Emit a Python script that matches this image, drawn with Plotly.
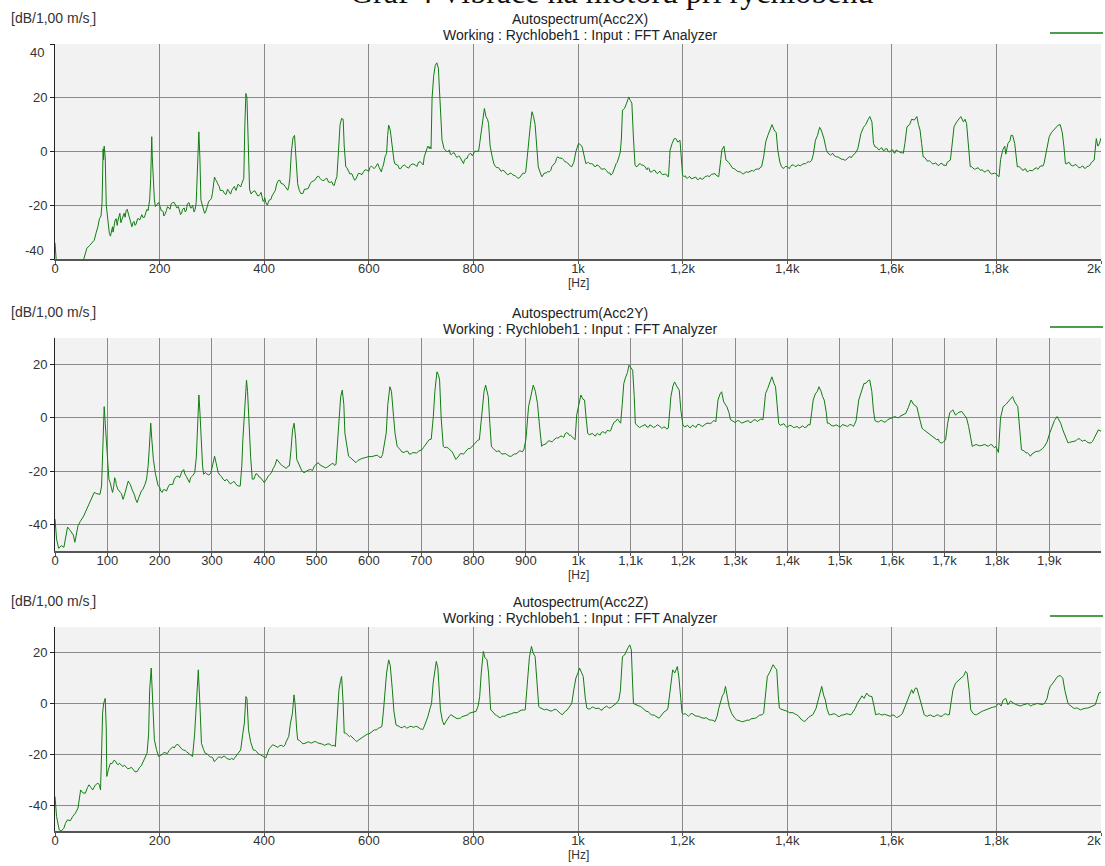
import plotly.graph_objects as go

# ---------------- data ----------------
acc2x_points = [
    (0, -34), (2, -38), (4, -45), (20, -46), (40, -46), (55, -40), (58, -38), (61, -36), (66, -35), (70, -34),
    (75, -33), (79, -30), (82, -28), (85, -25), (88, -24), (90, -19), (92, 1), (93, -3), (94, 2), (96, -2),
    (98, -20), (102, -29), (106, -31.5), (110, -28), (113, -27), (117, -25), (120, -26), (124, -23), (128, -25),
    (132, -23), (136, -22), (138, -21.5), (142, -25), (147, -28), (151, -26), (155, -27), (160, -25), (164, -24),
    (168, -24.5), (174, -22.5), (178, -22), (181, -18), (183, -10), (185, 5.5), (186, -2), (188, -14), (190, -18),
    (195, -19.5), (201, -20.5), (205, -22), (208, -24), (213, -22), (218, -21), (222, -19.5), (228, -19), (233, -21),
    (238, -22.5), (242, -23), (247, -21), (251, -22), (256, -19), (261, -21), (266, -22.5), (270, -19), (273, -5),
    (275, 7.3), (277, -2), (279, -18), (283, -21), (286, -23), (290, -21), (294, -18.5), (297, -18), (301, -15.6),
    (305, -9.5), (309, -11), (314, -13), (318, -14.5), (324, -15.6), (330, -14), (334, -15.5), (338, -14.4),
    (343, -13), (348, -13.5), (352, -12.5), (357, -12), (361, -10), (363, 10), (365, 21.6), (367, 20), (369, 3),
    (372, -14), (378, -15), (385, -15.6), (392, -16), (396, -17), (400, -18), (403, -19), (406, -20), (411, -18),
    (415, -16.5), (419, -15.6), (424, -12), (430, -10.7), (434, -12), (440, -13), (445, -14.4), (449, -10),
    (452, 0), (455, 5), (458, 6), (461, -3), (464, -12), (467, -14.4), (474, -15.6), (480, -14), (488, -12),
    (494, -11), (501, -9.4), (507, -10), (515, -10.7), (520, -10), (526, -11.5), (532, -12.5), (536, -11),
    (539, -9.4), (542, 0), (545, 10), (548, 12.3), (551, 12), (553, 2), (556, -5.7), (561, -7), (566, -8.2),
    (570, -9.5), (573, -10.7), (578, -9), (583, -8.2), (590, -7.5), (597, -7), (602, -6), (607, -5.7), (612, -6),
    (617, -4.5), (620, -6), (624, -7.6), (628, -5), (631, -2), (634, -0.7), (636, 6), (638, 9.8), (641, 8),
    (644, 2), (648, -3.2), (653, -5), (658, -6.3), (664, -5.5), (672, -5.7), (680, -5), (689, -5), (695, -4),
    (702, -4.5), (706, -2), (709, 0.5), (713, 2), (716, 1), (719, 1), (721, 20), (724, 28), (727, 32), (730, 33),
    (733, 31), (736, 20), (738, 10), (740, 4.2), (744, 1), (747, 0.5), (752, 0), (756, -1), (760, -0.7),
    (766, -1.5), (770, -2), (774, -2), (778, -3), (781, -4.5), (786, -2.5), (790, -1.5), (795, -0.7), (800, -1),
    (805, 0), (808, 0), (812, 3), (816, 8), (819, 12), (821, 16), (824, 13), (827, 12), (829, 10.4), (832, 2),
    (836, -2), (839, -4.5), (845, -6), (851, -7), (856, -7), (862, -8), (868, -8.5), (873, -8.2), (880, -9),
    (885, -10), (890, -9.4), (895, -8), (900, -7.6), (903, -2), (906, 5), (909, 10), (912, 14.8), (915, 13),
    (918, 10), (921, 0), (924, -5.7), (928, -8), (931, -9.4), (936, -8), (942, -7.5), (948, -7), (953, -5),
    (957, -4), (961, -2), (967, -2.5), (972, -3), (978, -4), (983, -5), (988, -5.7), (992, -4), (996, 0),
    (1001, 3), (1005, 2.5), (1008, 1.7), (1012, -2), (1015, -4.5), (1020, -4), (1026, -4.5), (1031, -5.5),
    (1036, -5), (1042, -6), (1048, -6.5), (1054, -7), (1058, -8), (1063, -8.8), (1068, -7), (1073, -4.5),
    (1077, -3), (1081, 0), (1083, 5), (1085, 15.4), (1089, 16), (1093, 18), (1097, 20.3), (1100, 19), (1103, 18),
    (1106, 5), (1109, -5), (1114, -5.5), (1119, -4.5), (1124, -5), (1130, -6.5), (1134, -6), (1138, -7.6),
    (1144, -7), (1150, -8), (1155, -7.5), (1159, -8.2), (1165, -8.5), (1170, -9), (1173, -9.4), (1175, -3),
    (1176, 0.5), (1180, 3), (1184, 4.8), (1187, 4.8), (1191, 3.5), (1195, 4.2), (1198, -2), (1200, -8.8),
    (1205, -9), (1209, -10), (1214, -9.4), (1220, -10), (1225, -9.5), (1230, -10.5), (1235, -10), (1242, -9.5),
    (1248, -9), (1255, -8.5), (1262, -8.2), (1266, -9), (1269, -9.4), (1273, -3), (1275, 0.5), (1279, 2),
    (1283, -3.2), (1288, -4), (1292, -5.5), (1296, -6.3), (1302, -7), (1308, -7.5), (1313, -8), (1317, -8.2),
    (1322, -7.5), (1328, -7.5), (1333, -7), (1337, -7), (1343, -6.5), (1348, -6), (1351, -5.7), (1355, -2),
    (1359, 3.6), (1363, 6), (1368, 8.6), (1371, 10), (1375, 8), (1379, 7), (1382, 0.5), (1386, -4), (1392, -6.3),
    (1397, -5.5), (1402, -6), (1406, -5.7), (1412, -5), (1418, -5.5), (1422, -5), (1427, -5), (1432, -4.5),
    (1438, -4), (1443, -4), (1447, -3.2), (1450, -1), (1454, 4.2), (1458, 6), (1462, 9), (1465, 8), (1470, 5),
    (1473, 2), (1475, 0.5), (1480, -1), (1485, -1), (1489, -1.4), (1494, -2), (1500, -2.5), (1505, -3),
    (1509, -3.2), (1515, -2.5), (1520, -2), (1525, -1.5), (1530, -0.7), (1535, 1), (1538, 4), (1541, 6.7),
    (1546, 9), (1550, 10), (1555, 12), (1558, 13), (1562, 11), (1565, 3), (1568, 1.7), (1573, 1), (1578, 1.1),
    (1583, 0.5), (1588, 1), (1593, 0), (1599, 0.5), (1604, -0.5), (1608, 0.5), (1613, 0), (1618, -0.5),
    (1622, -0.7), (1625, 3), (1629, 9.2), (1634, 10), (1638, 12), (1643, 11.7), (1648, 13), (1651, 10), (1654, 8),
    (1657, 3), (1660, -2), (1665, -3), (1670, -3.5), (1675, -4), (1681, -4.5), (1687, -5), (1693, -4.5),
    (1698, -5), (1701, -5), (1706, -4), (1712, -3.2), (1715, 2), (1719, 9.2), (1724, 11), (1728, 12), (1732, 13),
    (1737, 11), (1740, 12), (1743, 10.4), (1746, 3), (1750, -5.7), (1755, -6), (1760, -6.5), (1765, -6),
    (1770, -7), (1776, -7.5), (1782, -7), (1788, -8), (1794, -8.2), (1800, -8.5), (1805, -9.4), (1808, -3),
    (1812, 0.5), (1816, 2), (1818, -1), (1822, 3), (1826, 4), (1828, 6), (1831, 6), (1835, 3), (1838, -2),
    (1840, -5.7), (1846, -6), (1852, -7), (1856, -6.5), (1860, -7.6), (1866, -7), (1872, -6.5), (1877, -6),
    (1881, -6.3), (1886, -5.5), (1891, -4.5), (1895, 0), (1898, 3), (1901, 5.5), (1905, 7), (1910, 8), (1914, 9),
    (1918, 9.8), (1922, 10), (1926, 7), (1929, 2), (1932, -4.5), (1937, -4), (1942, -5), (1949, -5), (1955, -5.5),
    (1961, -6), (1966, -5.5), (1970, -6.3), (1976, -5.5), (1982, -4), (1987, -3.2), (1991, 4.8), (1994, 2),
    (1997, 3), (2000, 5),
]
# finer ripple read between the main points
acc2x_detail = [
    (104, -30.5), (108, -29), (111, -30), (115, -25.5), (119, -27.5), (122, -24), (126, -26.5), (130, -23.5),
    (134, -24.5), (140, -23), (145, -27.5), (149, -26.5), (153, -27.5), (158, -25), (162, -25.5), (166, -23.5),
    (171, -24.5), (176, -21.5), (192, -20.5), (198, -19), (203, -22), (207, -22.5), (210, -23.5), (215, -20.5),
    (220, -21.5), (225, -19), (231, -20.5), (236, -20.5), (240, -23.5), (244, -21.5), (249, -22.5), (253, -19.5),
    (259, -21), (263, -20), (268, -21.5), (281, -19.5), (288, -22.5), (292, -19.5), (299, -17.5), (303, -12),
    (307, -10.5), (311, -12), (316, -14.5), (321, -14.5), (327, -16), (332, -14.5), (336, -15.8), (341, -13.2),
    (346, -14.5), (350, -12.2), (355, -13.2), (375, -15.8), (382, -14.6), (388, -16.6), (394, -15.2),
    (398, -18.6), (401, -17.2), (405, -19.8), (409, -18.2), (413, -17.8), (417, -15.8), (421, -14.6),
    (427, -10.8), (432, -11.8), (437, -12.2), (442, -13.8), (447, -13), (470, -15.6), (477, -14), (484, -13.8),
    (491, -11.2), (497, -10.6), (504, -9.2), (511, -10.8), (518, -10), (523, -11.4), (529, -11.2), (534, -12.6),
    (558, -6), (564, -8.4), (568, -8.4), (575, -10.4), (580, -8.2), (587, -8.6), (593, -6.8), (600, -7.4),
    (605, -5.4), (610, -6.4), (615, -4.8), (622, -6.8), (626, -6), (650, -4.6), (656, -5.2), (661, -6.4),
    (668, -5), (676, -6.2), (684, -4.6), (692, -5.6), (698, -3.8), (704, -5), (711, 1), (717, 1.8), (749, 0),
    (754, 0.6), (758, -1.2), (763, -0.4), (768, -2.2), (772, -1.6), (776, -2.8), (783, -3.2), (788, -2.6),
    (793, -0.8), (798, -1.6), (803, 0.2), (810, 0.2), (842, -5.6), (848, -6), (853, -7.4), (859, -7.2),
    (865, -8.6), (870, -8), (876, -8.8), (883, -9.6), (888, -9.8), (893, -8.4), (898, -8.2), (933, -8.8),
    (939, -8), (945, -7.6), (950, -5.6), (955, -4.6), (959, -2.6), (964, -2.4), (970, -2.6), (975, -3.8),
    (980, -4.2), (986, -5.4), (1018, -4.2), (1023, -4.6), (1029, -4.8), (1034, -5.6), (1039, -5.2), (1045, -6.6),
    (1051, -6.4), (1056, -7.8), (1061, -8), (1066, -8.2), (1070, -5.8), (1075, -4), (1079, -1.6), (1111, -5.6),
    (1117, -4.6), (1122, -5.2), (1127, -5.4), (1132, -6.8), (1136, -6.4), (1141, -7.6), (1147, -7), (1152, -8.2),
    (1157, -7.4), (1162, -8.6), (1168, -8.4), (1203, -9.4), (1207, -9.8), (1212, -9.4), (1217, -10.2),
    (1222, -9.6), (1228, -10.4), (1233, -9.8), (1238, -10.4), (1245, -9.2), (1251, -9.4), (1258, -8.4),
    (1264, -8.8), (1290, -4.6), (1294, -6.2), (1299, -6.4), (1305, -7.4), (1311, -7.6), (1315, -8.4),
    (1320, -7.6), (1325, -7.8), (1331, -7), (1335, -7.4), (1340, -6.6), (1346, -6.6), (1389, -5.6), (1395, -6),
    (1400, -5.6), (1404, -6.4), (1409, -5), (1415, -5.6), (1420, -5), (1425, -5.4), (1430, -4.6), (1435, -4.6),
    (1441, -3.8), (1478, -0.6), (1483, -1.4), (1487, -0.6), (1492, -2), (1497, -2), (1503, -3), (1507, -2.8),
    (1512, -3.2), (1518, -2), (1523, -2.2), (1528, -0.8), (1571, 1.6), (1576, 0.6), (1581, 1.4), (1586, 0.4),
    (1591, 1), (1596, -0.2), (1602, 0.6), (1606, -0.6), (1611, 0.4), (1616, -0.4), (1620, -0.4), (1663, -2.2),
    (1668, -3.6), (1672, -3.4), (1678, -4.6), (1684, -4.2), (1690, -5.2), (1696, -4.4), (1704, -5.2),
    (1709, -3.4), (1752, -5.6), (1758, -6.6), (1763, -6), (1768, -6.8), (1773, -6.8), (1779, -7.6), (1785, -7),
    (1791, -8.4), (1797, -8), (1802, -9), (1843, -5.6), (1849, -6.8), (1854, -6.4), (1858, -7.4), (1863, -7),
    (1869, -7.2), (1875, -6), (1879, -6.6), (1884, -5.4), (1889, -5.4), (1935, -4.6), (1940, -4.2), (1946, -5.4),
    (1952, -4.8), (1958, -6), (1964, -5.4), (1968, -6.2), (1973, -5.6), (1979, -5), (1985, -3.4),
]

acc2y_points = [
    (0, -38), (3, -45.5), (7, -49), (12, -48), (17, -48.6), (20, -45.5), (24, -41), (28, -42), (31, -43),
    (35, -44), (38, -46.7), (41, -43), (44, -40.5), (48, -39), (52, -38), (55, -36.8), (59, -35), (62, -33.7),
    (65, -32), (68, -30.6), (72, -29), (75, -28), (80, -28.5), (86, -28.7), (89, -25.6), (91, -15), (92, -5.7),
    (94, 4.2), (96, -2), (99, -12), (101, -20), (103, -23), (107, -26), (110, -28), (114, -22.5), (117, -25),
    (120, -26.8), (125, -28), (130, -30.6), (135, -27), (140, -23.7), (144, -25), (147, -26.8), (152, -29),
    (157, -31.8), (162, -29), (168, -26.8), (172, -25), (175, -23), (178, -18), (180, -12), (183, -2), (185, -8),
    (188, -15.6), (192, -21), (195, -24.3), (200, -26), (205, -28), (210, -27), (216, -26), (222, -25),
    (228, -23), (236, -21.9), (241, -21), (246, -19.4), (251, -22), (257, -24.3), (262, -22), (267, -20.6),
    (270, -15), (272, -5.7), (275, 8.6), (277, 2), (279, -8.2), (282, -18), (284, -21.2), (290, -21),
    (298, -20.6), (302, -17), (305, -14.4), (308, -17), (312, -20.6), (318, -22), (325, -23.7), (332, -24),
    (339, -24.3), (346, -25), (354, -25.6), (357, -18), (359, -8.2), (362, 3), (366, 14.2), (368, 10),
    (371, -5.7), (374, -15), (377, -23), (382, -22), (387, -21.2), (393, -22.5), (400, -24.3), (405, -22.5),
    (411, -21.2), (417, -19), (424, -15.6), (430, -17), (435, -18), (442, -19), (448, -18), (451, -12),
    (454, -4.5), (457, -2), (460, -8), (462, -15.6), (467, -18), (472, -20), (480, -20), (489, -19.4),
    (496, -18), (503, -16.8), (510, -18), (517, -18.8), (525, -18), (531, -17), (537, -17.5), (540, -8),
    (543, 3), (546, 8), (549, 10.4), (552, 5), (554, -5.7), (558, -11), (561, -14.4), (568, -15.5),
    (575, -16.8), (583, -15.5), (592, -15), (600, -14.5), (609, -14.4), (616, -14), (623, -15), (628, -12),
    (631, -8), (633, -5.7), (636, 5), (640, 11.7), (643, 10), (647, 0.5), (650, -6), (654, -10.7), (660, -12),
    (667, -13), (674, -12.5), (681, -13.5), (688, -13), (695, -12.5), (701, -12), (708, -10), (715, -8.2),
    (719, -8), (723, 0.5), (726, 10), (730, 17.3), (733, 16), (735, 14.2), (738, 0), (742, -10.7), (748, -11),
    (756, -12), (761, -13.5), (766, -15.6), (772, -14), (778, -13.5), (783, -13), (790, -11.5), (796, -11),
    (800, -10), (806, -9), (811, -8.2), (814, -2), (817, 4.2), (820, 10), (823, 12.3), (826, 10), (828, 8),
    (831, -2), (834, -10.7), (840, -12), (846, -12.5), (851, -13), (858, -13.5), (865, -14), (872, -14.4),
    (878, -13.5), (885, -13), (891, -12.5), (896, -12), (900, -8), (905, 4.2), (909, 8), (914, 12.3), (918, 10),
    (922, 5.5), (926, -3), (930, -10.7), (935, -10), (941, -9), (947, -8.8), (952, -8.5), (958, -7.5),
    (964, -7), (970, -7), (975, -6), (980, -5.7), (985, -6.5), (990, -7.5), (994, -8.2), (997, 1.1), (1001, 5),
    (1005, 8.6), (1009, 7), (1012, 6.7), (1015, 0), (1018, -5.7), (1024, -6), (1030, -6.5), (1035, -6),
    (1039, -6.3), (1044, -5.5), (1050, -5.5), (1054, -5), (1059, -5), (1065, -3), (1069, -1.5), (1073, -0.7),
    (1077, -1), (1081, -2), (1084, 5), (1087, 12.9), (1090, 15), (1094, 17), (1097, 19.8), (1100, 19),
    (1104, 17.9), (1107, 8), (1109, -2), (1114, -3), (1121, -3.2), (1128, -2.5), (1134, -3.5), (1141, -3),
    (1148, -3.2), (1155, -3), (1160, -4), (1166, -3.5), (1172, -3.9), (1175, 3), (1177, 8), (1181, 12),
    (1184, 13.5), (1188, 12), (1193, 10.4), (1196, 3), (1200, -2.6), (1206, -3), (1212, -3.5), (1217, -3),
    (1222, -3.2), (1228, -2.5), (1235, -3), (1242, -2.5), (1250, -2), (1256, -1.5), (1263, -1.4), (1265, 3),
    (1267, 6.7), (1271, 9), (1274, 9.8), (1278, 6), (1284, 4.2), (1288, 2), (1291, -0.7), (1297, -1.5),
    (1304, -1), (1312, -2), (1318, -1.5), (1325, -1), (1332, -1.5), (1339, -0.7), (1346, -1), (1353, -0.7),
    (1356, 4), (1358, 9.2), (1362, 11), (1366, 13), (1370, 15.4), (1374, 13), (1377, 11.7), (1380, 5),
    (1383, -2), (1390, -2.5), (1396, -3), (1401, -3.2), (1408, -3), (1415, -3.5), (1422, -3.9), (1429, -3),
    (1436, -3.5), (1443, -2.6), (1446, 2), (1449, 6.7), (1453, 9), (1457, 10), (1460, 11.7), (1464, 10),
    (1467, 8), (1470, 6.7), (1474, 2), (1476, -2), (1482, -2.5), (1489, -3), (1498, -3.2), (1505, -2.5),
    (1512, -3), (1519, -2.5), (1526, -3.2), (1531, -1), (1536, 6.7), (1541, 10), (1546, 12.9), (1550, 13),
    (1554, 14), (1557, 14.2), (1561, 10), (1564, 3), (1567, -1), (1571, -1.4), (1577, -1), (1584, -1.5),
    (1591, -0.7), (1598, 0), (1605, 0.5), (1612, 0), (1619, 1), (1626, 1.7), (1631, 4), (1636, 6.7), (1641, 5),
    (1647, 4.2), (1652, 0), (1657, -3.9), (1664, -5), (1671, -6.3), (1678, -7), (1685, -8.2), (1690, -9),
    (1696, -9.4), (1702, -8.2), (1706, -2), (1710, 2), (1716, 3), (1721, 1), (1726, 2), (1733, 2.4), (1738, 1),
    (1742, 0), (1746, -3.2), (1750, -8), (1753, -10.7), (1760, -10), (1767, -10.5), (1774, -10), (1781, -10.5),
    (1788, -10), (1794, -11), (1798, -10.7), (1803, -13), (1807, 0), (1812, 4.2), (1817, 5), (1822, 6),
    (1826, 7), (1830, 8), (1834, 6), (1840, 4.2), (1844, -5), (1847, -12), (1853, -12.5), (1858, -13),
    (1864, -14.4), (1870, -13), (1877, -12.5), (1884, -12), (1891, -10.7), (1896, -9), (1901, -5.7), (1906, -3),
    (1910, -1), (1915, 0.5), (1919, -1), (1922, -2), (1926, -4.5), (1931, -7), (1936, -9.4), (1942, -9),
    (1948, -8.5), (1954, -8), (1960, -8.2), (1966, -8.5), (1972, -9), (1980, -9.4), (1985, -8), (1990, -6),
    (1994, -4.5), (1999, -5),
]
acc2y_detail = [
    (105, -24), (112, -26), (116, -23.5), (122, -27.5), (127, -28.5), (132, -29.5), (137, -25), (142, -24.5),
    (150, -28), (154, -30.5), (160, -30), (165, -27.5), (170, -26), (197, -25.5), (202, -27.5), (207, -27),
    (213, -27.5), (219, -25), (225, -25), (232, -22), (238, -22.5), (243, -20), (248, -21), (254, -23.5),
    (259, -22.5), (264, -21.5), (287, -20.5), (294, -21.5), (315, -21.5), (321, -23), (328, -23), (335, -24.8),
    (342, -23.8), (350, -25.6), (380, -23), (384, -21), (390, -22.2), (396, -23.4), (403, -23.4), (408, -21.8),
    (414, -20.4), (420, -18), (427, -16.4), (433, -17.8), (438, -18.6), (445, -18.2), (470, -19.2), (476, -20.6),
    (484, -19.6), (492, -19.8), (499, -17.4), (506, -17.6), (513, -18.6), (521, -18.4), (528, -17.4),
    (534, -17.8), (565, -15), (571, -16.2), (579, -16), (587, -15.2), (596, -14.8), (604, -14.6), (612, -14),
    (619, -14.6), (626, -13.8), (657, -11.2), (663, -12.8), (670, -12.6), (677, -13.6), (684, -13), (691, -13.2),
    (698, -12.2), (704, -11.2), (711, -9.2), (745, -11.2), (752, -11.4), (759, -12.8), (764, -14.6), (769, -15),
    (775, -13.4), (781, -13.6), (787, -12), (793, -11.6), (803, -9.8), (808, -8.4), (837, -11.4), (843, -12.6),
    (849, -12.4), (854, -13.6), (861, -13.4), (868, -14.4), (875, -13.8), (881, -13.6), (888, -12.4),
    (893, -12.8), (932, -10.2), (938, -9.8), (944, -8.6), (950, -9), (955, -7.8), (961, -7.6), (967, -6.8),
    (972, -7.4), (977, -5.6), (983, -6.6), (988, -7.2), (1021, -6.4), (1027, -5.8), (1033, -6.8), (1037, -5.8),
    (1042, -6.4), (1047, -5.2), (1052, -5.8), (1057, -4.6), (1062, -4.8), (1067, -1.8), (1071, -1.4),
    (1075, -0.4), (1079, -1.8), (1111, -2.6), (1117, -3.6), (1124, -2.8), (1131, -3.4), (1137, -2.6),
    (1144, -3.6), (1151, -2.6), (1158, -3.6), (1163, -3.4), (1169, -4.2), (1203, -3.4), (1209, -2.8),
    (1214, -3.8), (1219, -2.8), (1225, -3.6), (1231, -2.4), (1238, -3.2), (1246, -2), (1253, -2.2), (1259, -1),
    (1294, -1), (1300, -1.8), (1308, -1.2), (1315, -1.8), (1321, -1.2), (1328, -1.8), (1335, -0.8), (1342, -1.4),
    (1349, -0.4), (1386, -2.8), (1393, -2.2), (1399, -3.6), (1404, -2.8), (1411, -3.6), (1418, -3.2),
    (1425, -3.4), (1432, -3.6), (1439, -2.6), (1479, -2), (1485, -3), (1493, -2.6), (1501, -3.4), (1508, -2.6),
    (1515, -3.2), (1522, -2.6), (1528, -2.4), (1574, -1.6), (1580, -1), (1587, -1.6), (1594, -0.4), (1601, 0),
    (1608, 0.2), (1615, 0.6), (1622, 1.2), (1660, -4.4), (1667, -5.4), (1674, -6.6), (1681, -7.6), (1688, -8),
    (1693, -9.4), (1699, -8.8), (1756, -10.4), (1763, -10.2), (1770, -10.4), (1777, -10), (1784, -10.6),
    (1791, -10.2), (1796, -11.2), (1800, -12), (1850, -12.2), (1856, -13.2), (1861, -13.6), (1867, -13.6),
    (1873, -12.8), (1880, -12.6), (1887, -11.6), (1893, -10), (1939, -9.2), (1945, -8.8), (1951, -8.6),
    (1957, -7.8), (1963, -8.8), (1969, -8.4), (1976, -9.4), (1983, -8.8), (1988, -6.8),
]

acc2z_points = [
    (0, -36.5), (3, -44.3), (8, -49.5), (12, -50), (17, -48.9), (20, -47), (24, -45.6), (29, -46), (34, -44.3),
    (39, -43), (44, -41), (47, -37), (49, -33.9), (53, -35), (58, -35.2), (62, -33), (65, -31.9), (69, -33),
    (72, -33.9), (77, -32), (82, -31.2), (85, -32), (87, -33.9), (89, -20), (91, -3.8), (93, 0), (96, 2),
    (98, -10), (99, -28.6), (102, -26), (106, -23.4), (111, -23), (116, -22.7), (121, -24), (126, -24),
    (130, -24.7), (136, -25), (143, -25.4), (150, -26), (157, -26.7), (162, -25), (167, -23.4), (172, -21),
    (176, -19.5), (179, -12), (181, 5.4), (184, 13.9), (187, 0), (190, -14.2), (194, -18), (198, -20.8),
    (205, -20), (212, -19.5), (218, -18.5), (225, -17), (232, -16.2), (239, -17), (246, -18.3), (252, -19),
    (258, -20), (263, -20.8), (267, -12), (270, -1.2), (274, 13.2), (277, 0), (280, -15.6), (284, -18),
    (287, -19.5), (294, -20.5), (300, -21), (304, -22.7), (310, -21.5), (316, -21), (321, -20.8), (328, -21.5),
    (335, -22), (341, -22.1), (348, -20), (355, -18.2), (359, -12), (362, -7.7), (365, 2.7), (367, 2),
    (370, -10.3), (374, -15), (379, -18.2), (386, -19), (393, -20.1), (398, -20.5), (403, -21.4), (409, -18),
    (416, -16.2), (423, -17), (430, -16.5), (437, -16.9), (442, -15), (447, -12.9), (450, -8), (454, -3.8),
    (457, 3.4), (459, 0), (462, -10), (464, -14.2), (470, -15), (478, -15.6), (485, -15), (491, -15.5),
    (498, -14.9), (505, -15.5), (512, -16), (519, -16.2), (526, -16), (531, -16.5), (536, -16.9), (540, -5),
    (543, 5.4), (546, 9), (548, 10.6), (551, 0), (553, -11.6), (558, -12), (563, -13), (567, -12.9), (572, -14),
    (577, -14.9), (583, -14), (588, -13), (594, -12.3), (600, -12), (606, -11), (611, -10.3), (616, -10),
    (621, -9.5), (625, -9), (628, -3), (631, 5.4), (634, 12), (638, 17.1), (641, 15), (645, 5.4), (648, -3),
    (652, -8.4), (658, -9), (664, -9.5), (669, -9), (675, -9.5), (682, -9), (689, -9), (695, -9.5), (699, -10),
    (703, -10.3), (708, -8), (713, -5.1), (717, -2), (720, 0), (723, 8), (726, 13), (729, 16.5), (732, 14),
    (735, 5), (737, -2.5), (741, -7), (744, -8.4), (750, -6), (757, -4.4), (763, -5), (769, -6), (775, -5.8),
    (781, -5), (787, -4.5), (792, -3.8), (798, -3.5), (805, -3.1), (809, -1), (812, 2.7), (815, 12), (819, 20.4),
    (822, 18), (826, 17.1), (829, 12), (831, 2), (833, -2.5), (838, -3.5), (842, -4.5), (846, -5.1), (852, -5.5),
    (858, -5), (863, -4.5), (867, -4.4), (873, -4), (880, -3.5), (887, -3.1), (893, -2.5), (899, -2.5), (902, 5),
    (904, 11.9), (907, 18), (911, 22.4), (914, 20), (918, 18.4), (921, 8), (925, -1.2), (930, -2), (936, -2.5),
    (942, -2.5), (948, -3), (953, -2.5), (959, -2.5), (964, -3.5), (970, -4.4), (976, -3), (981, -2),
    (985, -1.2), (988, 0), (992, 5.4), (996, 10), (1000, 12), (1003, 13.9), (1007, 12), (1010, 10.6), (1014, 2),
    (1017, -1.8), (1024, -2), (1030, -1.5), (1037, -1.8), (1043, -2.5), (1049, -1.8), (1055, -1), (1061, -1.8),
    (1067, -1), (1073, 0), (1078, 1.4), (1081, 5), (1085, 18.4), (1089, 19), (1093, 21), (1096, 22), (1099, 23),
    (1102, 21), (1104, 10), (1106, 0), (1111, -0.5), (1117, -1), (1123, -1.8), (1130, -3), (1137, -3.8),
    (1143, -4.5), (1149, -5), (1155, -5.8), (1161, -4), (1167, -3), (1172, -1.8), (1176, 5), (1181, 13.2),
    (1185, 12), (1190, 14.5), (1193, 10), (1196, 2.7), (1199, -3.8), (1205, -4), (1211, -5), (1216, -4),
    (1221, -4.4), (1228, -5), (1235, -5.5), (1241, -5.8), (1248, -6), (1255, -6.5), (1262, -7.1), (1266, -5),
    (1269, -2), (1272, 0), (1276, 3), (1279, 4), (1282, 6.7), (1286, 2), (1289, -1.2), (1294, -4), (1300, -5.8),
    (1306, -6.5), (1312, -7), (1317, -7.1), (1324, -6.5), (1331, -6), (1338, -5.8), (1344, -5), (1350, -4.5),
    (1355, -3.8), (1358, 3), (1362, 10.6), (1366, 12), (1370, 14), (1373, 15.2), (1377, 14), (1380, 13.2),
    (1383, 3), (1385, -1.8), (1392, -2.5), (1401, -3.1), (1408, -3.5), (1414, -4), (1418, -4.4), (1424, -5.5),
    (1428, -6.5), (1432, -7.1), (1438, -6), (1444, -5), (1449, -4.4), (1455, -2), (1459, 1), (1461, 2.7),
    (1464, 5), (1466, 6.7), (1470, 3), (1473, 1.4), (1476, -2), (1480, -4.4), (1487, -4), (1494, -4.5),
    (1500, -5.1), (1507, -4.5), (1514, -4), (1520, -4.5), (1524, -3.8), (1530, -2), (1534, 0), (1538, 1.4),
    (1543, 3), (1547, 2), (1552, 4.1), (1556, 3), (1562, 2.7), (1566, -1), (1569, -4.4), (1576, -4),
    (1583, -4.5), (1590, -4.4), (1597, -5), (1604, -4.5), (1609, -5.5), (1614, -5.1), (1620, -4), (1624, -2),
    (1628, 0), (1633, 3), (1638, 5.4), (1641, 4), (1645, 6), (1648, 6), (1652, 3), (1655, 1.4), (1659, -2),
    (1662, -4.4), (1668, -5), (1674, -4.5), (1682, -5.1), (1689, -4.5), (1696, -5), (1703, -4), (1710, -4.4),
    (1713, 0), (1717, 5.4), (1722, 8), (1727, 9), (1731, 10), (1734, 10.6), (1738, 11), (1741, 12.6), (1744, 12),
    (1748, 5), (1751, -2.5), (1756, -4), (1762, -4.4), (1768, -3.5), (1773, -3), (1779, -2.5), (1785, -2),
    (1792, -1.5), (1799, -1.2), (1805, 0), (1809, -1), (1813, 1.4), (1818, 2), (1822, -0.5), (1827, 1),
    (1834, 0), (1840, -0.5), (1847, -1), (1854, -0.5), (1860, 0), (1866, -1), (1872, -0.5), (1878, 0),
    (1885, -0.5), (1892, 0), (1897, 2), (1900, 5), (1903, 6.7), (1908, 8), (1912, 9), (1917, 10.6), (1922, 11),
    (1927, 9.9), (1931, 5), (1935, 1), (1937, 0), (1943, -1), (1949, -2), (1955, -1.8), (1961, -2.5),
    (1967, -2), (1972, -1.8), (1978, -1.5), (1983, -1), (1989, -0.5), (1993, 2), (1996, 4.1), (2000, 4.5),
]
acc2z_detail = [
    (109, -23.6), (113, -22.2), (118, -23.6), (123, -23.4), (128, -24.6), (133, -24.2), (139, -25.6),
    (146, -25), (153, -26.8), (160, -25.6), (165, -24.4), (170, -22), (201, -20.4), (208, -19.2), (215, -19.6),
    (221, -17.8), (228, -17.4), (235, -16), (242, -17.8), (249, -18.4), (255, -19.6), (261, -20.4),
    (291, -19.8), (297, -21), (302, -21.4), (307, -22.4), (313, -21), (319, -21.4), (324, -20.6), (331, -21.8),
    (338, -21.4), (344, -21.2), (351, -19), (383, -18.4), (389, -19.8), (396, -20.4), (400, -21), (406, -19.2),
    (412, -17.2), (419, -16.4), (426, -17.2), (433, -16.4), (440, -16.2), (467, -14.4), (474, -15.8),
    (481, -15.2), (488, -15.4), (495, -15), (502, -15.4), (508, -15.6), (515, -16.4), (522, -15.8), (529, -16.6),
    (534, -16.4), (556, -11.6), (561, -12.8), (565, -12.6), (570, -13.6), (575, -14.6), (580, -14.4),
    (586, -13.6), (591, -12.8), (597, -12), (603, -11.6), (609, -10.6), (614, -10.4), (619, -9.6), (623, -9.4),
    (655, -8.6), (661, -9.4), (667, -9), (672, -9.6), (678, -9), (686, -9.4), (692, -9), (697, -9.8), (701, -10),
    (706, -9), (710, -6.8), (747, -7.2), (754, -5), (760, -4.8), (766, -5.6), (772, -5.8), (778, -5.2),
    (784, -4.6), (790, -4.4), (795, -3.6), (802, -3.4), (836, -3), (840, -4.2), (844, -4.6), (849, -5.4),
    (855, -5), (861, -5), (865, -4.4), (870, -4.4), (877, -3.6), (884, -3.6), (890, -2.8), (896, -2.6),
    (927, -1.6), (933, -2.4), (939, -2.2), (945, -2.8), (951, -2.8), (956, -2.2), (962, -3.2), (967, -4),
    (973, -3.6), (979, -2.6), (1020, -2.2), (1027, -1.4), (1034, -2), (1040, -1.8), (1046, -2.6), (1052, -1.4),
    (1058, -1.6), (1064, -1.4), (1070, -0.6), (1076, 0.8), (1108, -0.2), (1114, -1), (1120, -1.2), (1127, -2.6),
    (1134, -3.2), (1140, -4.4), (1146, -4.6), (1152, -5.6), (1158, -5), (1164, -3.4), (1170, -2.6), (1202, -4.2),
    (1208, -4.4), (1213, -4.6), (1219, -4), (1224, -4.8), (1231, -5), (1238, -5.8), (1245, -5.6), (1251, -6.4),
    (1258, -6.6), (1297, -5), (1303, -6.4), (1309, -6.6), (1314, -7.2), (1320, -6.8), (1327, -6.6), (1334, -6),
    (1341, -5.6), (1347, -4.6), (1352, -4.4), (1388, -2.2), (1396, -2.6), (1404, -3.6), (1411, -3.6),
    (1416, -4.4), (1421, -4.8), (1426, -6.2), (1430, -6.6), (1435, -6.8), (1441, -5.4), (1447, -4.8),
    (1483, -4.4), (1490, -4), (1497, -5), (1503, -4.6), (1510, -4.4), (1517, -4.2), (1522, -4.4), (1527, -2.8),
    (1572, -4.2), (1579, -4.4), (1586, -4.2), (1593, -4.8), (1600, -4.6), (1607, -5.2), (1611, -5.4),
    (1617, -4.6), (1665, -4.8), (1671, -4.6), (1678, -5), (1685, -4.6), (1692, -5), (1699, -4.4), (1706, -4.4),
    (1759, -4.4), (1765, -4), (1770, -3.2), (1776, -2.8), (1782, -2.2), (1788, -1.8), (1795, -1.4), (1802, -0.4),
    (1831, 0.6), (1837, -0.4), (1844, -0.6), (1850, -0.6), (1857, -0.2), (1863, -0.6), (1869, -0.6),
    (1875, -0.2), (1881, -0.2), (1888, -0.4), (1940, -0.6), (1946, -1.6), (1952, -1.8), (1958, -2.2),
    (1964, -2.2), (1970, -1.8), (1975, -1.8), (1981, -1.2), (1986, -0.8),
]


def merged(main, detail):
    pts = sorted(main + detail, key=lambda p: p[0])
    return [p[0] for p in pts], [p[1] for p in pts]


acc2x_hz, acc2x_db = merged(acc2x_points, acc2x_detail)
acc2y_hz, acc2y_db = merged(acc2y_points, acc2y_detail)
acc2z_hz, acc2z_db = merged(acc2z_points, acc2z_detail)

titles = ["Autospectrum(Acc2X)", "Autospectrum(Acc2Y)", "Autospectrum(Acc2Z)"]
subtitle = "Working : Rychlobeh1 : Input : FFT Analyzer"
unit_label = "[dB/1,00 m/s<sub>,</sub>]"
main_title = "Graf 4 Vibrace na motoru při rychloběhu"
hz_label = "[Hz]"

x_ticks_200 = [0, 200, 400, 600, 800, 1000, 1200, 1400, 1600, 1800, 2000]
x_text_200 = ["0", "200", "400", "600", "800", "1k", "1,2k", "1,4k", "1,6k", "1,8k", ""]
x_ticks_100 = [0, 100, 200, 300, 400, 500, 600, 700, 800, 900, 1000, 1100, 1200, 1300, 1400,
               1500, 1600, 1700, 1800, 1900]
x_text_100 = ["0", "100", "200", "300", "400", "500", "600", "700", "800", "900", "1k",
              "1,1k", "1,2k", "1,3k", "1,4k", "1,5k", "1,6k", "1,7k", "1,8k", "1,9k"]
y_ticks_1 = [-40, -20, 0, 20, 40]
y_text_1 = ["", "-20", "0", "20", ""]
y_ticks_23 = [-40, -20, 0, 20]

# ---------------- layout geometry (pixels) ----------------
W, H = 1105, 866
LINE = "#127d12"
FONT = "Liberation Sans"
X0, X1 = 55, 1101
panels = [  # (top px, bottom px, y range)
    (44, 259, [-40, 40]),
    (338, 551, [-50, 30]),
    (627, 831, [-50, 30]),
]


def py(p):
    return 1 - p / H


fig = go.Figure()
series = [(acc2x_hz, acc2x_db), (acc2y_hz, acc2y_db), (acc2z_hz, acc2z_db)]
for i, (hz, db) in enumerate(series):
    sfx = "" if i == 0 else str(i + 1)
    fig.add_trace(go.Scatter(x=hz, y=db, mode="lines", line=dict(color=LINE, width=1),
                             xaxis="x" + sfx, yaxis="y" + sfx, showlegend=False, hoverinfo="skip"))

layout = dict(
    width=W, height=H, margin=dict(l=0, r=0, t=0, b=0, autoexpand=False),
    paper_bgcolor="white", plot_bgcolor="#f2f2f2", showlegend=False,
    font=dict(family=FONT, size=13, color="#333"),
)
annotations = []
shapes = []


def text_at(text, xpx, ypx, xanchor="center", size=13, color="#333", family=FONT, yanchor="middle"):
    annotations.append(dict(text=text, x=xpx / W, y=py(ypx), xref="paper", yref="paper",
                            xanchor=xanchor, yanchor=yanchor, showarrow=False,
                            font=dict(family=family, size=size, color=color)))


for i, (top, bot, yr) in enumerate(panels):
    sfx = "" if i == 0 else str(i + 1)
    if i == 1:
        tv, tt, xr = x_ticks_100, x_text_100, [0, 1999]
    else:
        tv, tt, xr = x_ticks_200, x_text_200, [0, 2000]
    layout["xaxis" + sfx] = dict(
        domain=[X0 / W, X1 / W], range=xr, anchor="y" + sfx, automargin=False,
        tickmode="array", tickvals=tv, ticktext=tt,
        showgrid=True, gridcolor="#8a8a8a", gridwidth=1, zeroline=False,
        showline=True, linecolor="#555", linewidth=2, ticks="outside", ticklen=3, tickcolor="#555",
        ticklabelstandoff=-7,
        tickfont=dict(family=FONT, size=13, color="#333"),
    )
    layout["yaxis" + sfx] = dict(
        domain=[py(bot), py(top)], range=yr, anchor="x" + sfx, automargin=False,
        tickmode="array", tickvals=y_ticks_1 if i == 0 else y_ticks_23,
        ticktext=y_text_1 if i == 0 else [str(v) for v in y_ticks_23],
        showgrid=True, gridcolor="#8a8a8a", gridwidth=1, zeroline=False,
        showline=True, linecolor="#222", linewidth=1, ticks="outside", ticklen=4, tickcolor="#222",
        tickfont=dict(family=FONT, size=13, color="#333"),
    )
    text_at(unit_label, 9, top - 25, xanchor="left", size=14)
    text_at(titles[i], 580, top - 25, size=14, color="#222")
    text_at(subtitle, 580, top - 9, size=14, color="#222")
    text_at(hz_label, 578, bot + 24, size=12)
    if i != 1:
        text_at("2k", 1103, bot + 9, xanchor="right", size=13)
    shapes.append(dict(type="line", xref="paper", yref="paper", x0=1050 / W, x1=1103 / W,
                       y0=py(top - 11), y1=py(top - 11), line=dict(color=LINE, width=1.5)))

# end labels of the first panel sit inside the plot height, as in the reference
text_at("40", 46, 52, xanchor="right", size=13)
text_at("-40", 46, 251, xanchor="right", size=13)

text_at(main_title, 612, 12, size=32, color="#111", family="Liberation Serif", yanchor="bottom")
layout["annotations"] = annotations
layout["shapes"] = shapes
fig.update_layout(**layout)
fig.write_html("out.html", config={"displayModeBar": False},
               post_script="document.body.style.margin='0';document.body.style.overflow='hidden';")
